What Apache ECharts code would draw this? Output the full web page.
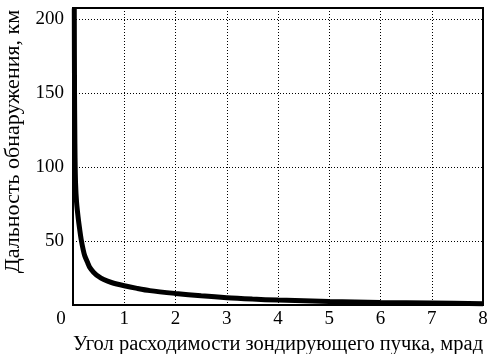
<!DOCTYPE html>
<html>
<head>
<meta charset="utf-8">
<script src="https://cdn.jsdelivr.net/npm/echarts@6/dist/echarts.min.js"></script>
<style>
html,body{margin:0;padding:0;background:#fff;}
#c{width:492px;height:354px;}
</style>
</head>
<body>
<div id="c"></div>
<script>
// Beam divergence angle, mrad
var theta = [0.025, 0.03, 0.035, 0.04, 0.05, 0.07, 0.1, 0.13, 0.16, 0.2, 0.23, 0.29, 0.33, 0.4, 0.5, 0.6, 0.75, 1, 1.25, 1.5, 2, 2.5, 3, 3.5, 4, 5, 6, 7, 8];
// Detection range, km
var range = [207, 150, 125, 106, 89, 76, 66, 58, 51, 44, 40, 35, 32, 29, 26, 24, 22, 19.8, 18, 16.5, 14.6, 13, 11.7, 10.8, 10.1, 9.2, 8.5, 8.1, 7.7];
var xTicks = [0, 1, 2, 3, 4, 5, 6, 7, 8];
var yTicks = [50, 100, 150, 200];
var xTitle = 'Угол расходимости зондирующего пучка, мрад';
var yTitle = 'Дальность обнаружения, км';

var points = theta.map(function (t, i) { return [t, range[i]]; });
var font = '"Liberation Serif", "DejaVu Serif", serif';
var dotted = { color: '#000', width: 1, type: [1, 2] };

var chart = echarts.init(document.getElementById('c'), null, { renderer: 'canvas' });
chart.setOption({
  animation: false,
  backgroundColor: '#fff',
  grid: { left: 73, right: 9, top: 8, bottom: 49, outerBoundsMode: 'none', containLabel: false, show: true, borderColor: '#000', borderWidth: 2, backgroundColor: 'transparent' },
  xAxis: {
    type: 'value', min: 0, max: 8, interval: 1,
    name: xTitle, nameLocation: 'middle', nameGap: 29,
    nameTextStyle: { fontFamily: font, fontSize: 20.5, color: '#000' },
    axisLine: { show: true, lineStyle: { color: '#000', width: 2 } },
    axisTick: { show: false },
    axisLabel: {
      color: '#000', fontFamily: font, fontSize: 19, margin: 5,
      formatter: function (v) { return v === 0 ? '{z|0}' : String(v); },
      rich: { z: { fontFamily: font, fontSize: 19, color: '#000', padding: [0, 24, 0, 0] } }
    },
    splitLine: { show: true, lineStyle: dotted }
  },
  yAxis: {
    type: 'value', min: 6.8, max: 207.4,
    name: yTitle, nameLocation: 'middle', nameGap: 49, nameRotate: 90,
    nameTextStyle: { fontFamily: font, fontSize: 22, color: '#000', padding: [0, 0, 0, 30] },
    axisLine: { show: true, lineStyle: { color: '#000', width: 2 } },
    axisTick: { show: false, customValues: yTicks },
    axisLabel: { color: '#000', fontFamily: font, fontSize: 19, margin: 9, customValues: yTicks },
    splitLine: { show: true, lineStyle: dotted }
  },
  series: [{
    type: 'line',
    data: points,
    showSymbol: false,
    smooth: 0.3,
    clip: true,
    lineStyle: { color: '#000', width: 5 }
  }]
});
</script>
</body>
</html>
